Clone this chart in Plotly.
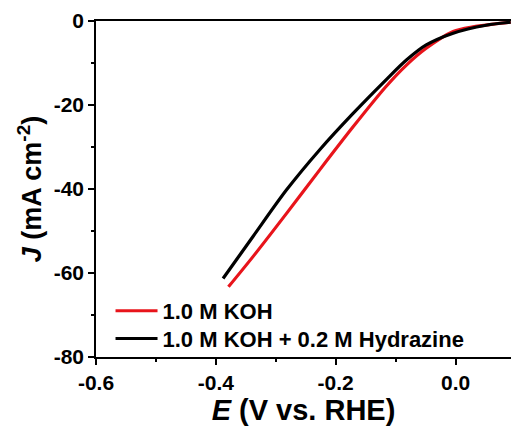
import plotly.graph_objects as go

# Data (E in V vs RHE, J in mA cm^-2)
E_koh = [-0.379, -0.338, -0.282, -0.227, -0.171, -0.116, -0.082, -0.049, -0.004, 0.029, 0.06, 0.092]
J_koh = [-63.3, -56.1, -45.8, -35.5, -25.2, -15.6, -10.5, -6.5, -2.5, -1.4, -0.8, -0.3]

E_hyd = [-0.388, -0.338, -0.282, -0.227, -0.171, -0.116, -0.082, -0.049, -0.004, 0.051, 0.092]
J_hyd = [-61.3, -51.3, -40.2, -30.7, -22.0, -14.0, -9.3, -5.7, -2.9, -1.0, -0.3]

series_names = ["1.0 M KOH", "1.0 M KOH + 0.2 M Hydrazine"]
series_colors = ["#e8141b", "#000000"]
legend_ids = ["legend", "legend2"]

x_tickvals = [-0.6, -0.4, -0.2, 0.0]
x_ticktext = ["-0.6", "-0.4", "-0.2", "0.0"]
y_tickvals = [-80, -60, -40, -20, 0]
y_ticktext = ["-80", "-60", "-40", "-20", "0"]

FONT = "Liberation Sans, Arial, sans-serif"

fig = go.Figure()
for E, J, name, color, lg in zip([E_koh, E_hyd], [J_koh, J_hyd], series_names, series_colors, legend_ids):
    fig.add_trace(go.Scatter(x=E, y=J, mode="lines", name=name, legend=lg,
                             line=dict(color=color, width=3.2, shape="spline", smoothing=0.8)))

leg_style = dict(xanchor="left", yanchor="middle", bgcolor="rgba(0,0,0,0)",
                 font=dict(size=22, family=FONT, weight="bold"), itemwidth=42)

fig.update_layout(
    width=511, height=430,
    margin=dict(l=96, r=0, t=21, b=73, autoexpand=False),
    plot_bgcolor="white", paper_bgcolor="white",
    font=dict(family=FONT, color="black"),
    showlegend=True,
    legend=dict(x=0.035, y=0.137, **leg_style),
    legend2=dict(x=0.035, y=0.0545, **leg_style),
)
fig.update_xaxes(
    range=[-0.6, 0.0925], showgrid=False, zeroline=False, automargin=False,
    showline=True, linecolor="black", linewidth=1.5, mirror=True,
    ticks="outside", ticklen=6, tickwidth=1.5, tickcolor="black",
    tickvals=x_tickvals, ticktext=x_ticktext,
    tickfont=dict(size=21, family=FONT, weight="bold"),
    minor=dict(ticks="outside", ticklen=3, tickwidth=1.5, tickcolor="black", dtick=0.1, tick0=-0.5, showgrid=False),
    title=dict(text="<i>E</i> (V vs. RHE)", font=dict(size=29, family=FONT, weight="bold"), standoff=0),
)
fig.update_yaxes(
    range=[-80, 0], showgrid=False, zeroline=False, automargin=False,
    showline=True, linecolor="black", linewidth=1.5, mirror=False,
    ticks="outside", ticklen=6, tickwidth=1.5, tickcolor="black",
    tickvals=y_tickvals, ticktext=y_ticktext,
    tickfont=dict(size=21, family=FONT, weight="bold"),
    minor=dict(ticks="outside", ticklen=3, tickwidth=1.5, tickcolor="black", dtick=10, tick0=-70, showgrid=False),
    title=dict(text="<i>J</i> (mA cm<sup>-2</sup>)", font=dict(size=27, family=FONT, weight="bold"), standoff=4),
)

fig.write_html("out.html", config={"displayModeBar": False},
               post_script="document.body.style.margin='0';document.body.style.overflow='hidden';")
